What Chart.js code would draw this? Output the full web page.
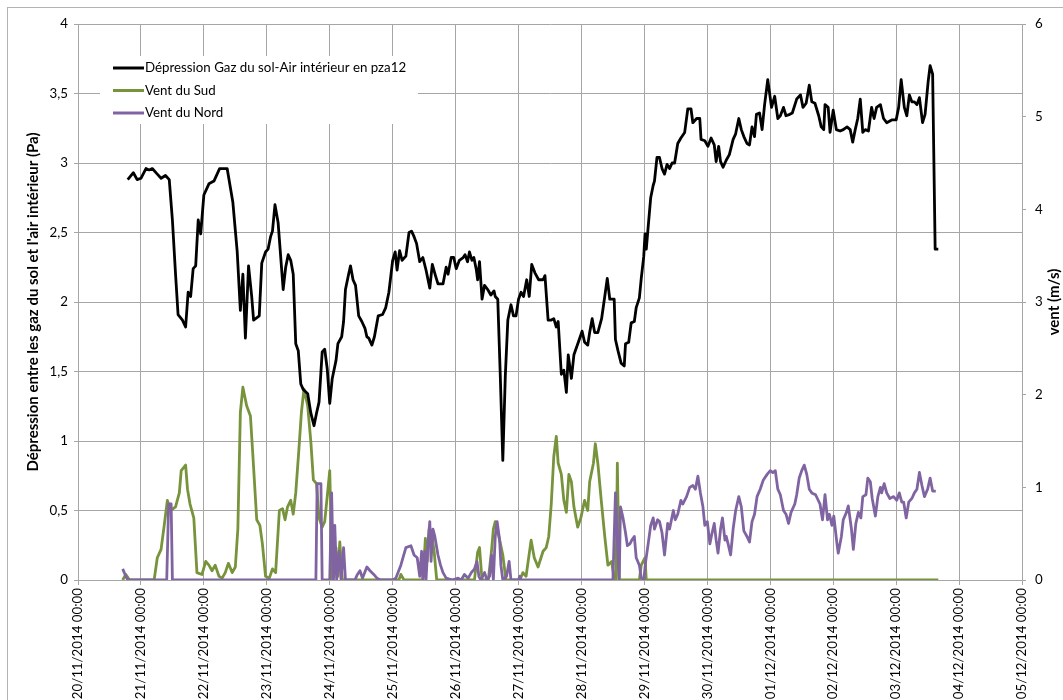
<!DOCTYPE html>
<html lang="fr">
<head>
<meta charset="utf-8">
<title>Dépression gaz du sol / vent</title>
<script src="https://cdn.jsdelivr.net/npm/chart.js@4.4.1/dist/chart.umd.min.js"></script>
<style>
  html, body { margin: 0; padding: 0; background: #fff; }
  #wrap { width: 1063px; height: 700px; }
</style>
</head>
<body>
<div id="wrap"><canvas id="ventChart" width="1063" height="700"></canvas></div>
<script>
// x = jours depuis le 20/11/2014 00:00
const dateLabels = ['20/11/2014 00:00', '21/11/2014 00:00', '22/11/2014 00:00', '23/11/2014 00:00',
  '24/11/2014 00:00', '25/11/2014 00:00', '26/11/2014 00:00', '27/11/2014 00:00', '28/11/2014 00:00',
  '29/11/2014 00:00', '30/11/2014 00:00', '01/12/2014 00:00', '02/12/2014 00:00', '03/12/2014 00:00',
  '04/12/2014 00:00', '05/12/2014 00:00'];

const depressionDays = [0.79,0.88,0.94,1.00,1.08,1.13,1.18,1.26,1.32,1.39,1.45,1.50,1.55,1.59,1.66,1.71,1.75,1.79,1.83,1.87,1.91,1.95,
  2.00,2.08,2.16,2.25,2.37,2.46,2.53,2.58,2.62,2.66,2.71,2.76,2.79,2.88,2.92,2.98,3.02,3.06,3.09,3.13,3.18,3.22,3.26,3.30,3.34,3.38,
  3.42,3.46,3.50,3.54,3.58,3.65,3.70,3.75,3.79,3.83,3.88,3.92,3.96,4.00,4.04,4.10,4.13,4.19,4.22,4.25,4.30,4.33,4.37,4.41,4.46,4.51,
  4.56,4.59,4.62,4.67,4.71,4.77,4.84,4.89,4.94,5.00,5.04,5.07,5.11,5.15,5.21,5.26,5.30,5.34,5.38,5.43,5.48,5.53,5.59,5.63,5.68,5.72,
  5.80,5.85,5.88,5.93,5.97,6.01,6.06,6.12,6.15,6.19,6.22,6.26,6.29,6.33,6.35,6.38,6.42,6.46,6.51,6.56,6.61,6.63,6.67,6.71,6.75,6.79,
  6.83,6.88,6.92,6.96,7.00,7.04,7.08,7.13,7.17,7.21,7.26,7.32,7.39,7.42,7.47,7.52,7.56,7.60,7.63,7.68,7.72,7.76,7.79,7.84,7.88,7.95,
  8.01,8.05,8.10,8.13,8.17,8.21,8.26,8.32,8.37,8.41,8.45,8.49,8.52,8.54,8.58,8.63,8.68,8.70,8.75,8.79,8.84,8.87,8.92,8.95,8.99,9.01,
  9.03,9.06,9.10,9.14,9.16,9.20,9.24,9.28,9.32,9.36,9.40,9.44,9.48,9.53,9.58,9.64,9.69,9.74,9.77,9.83,9.88,9.90,9.96,10.01,10.06,10.11,
  10.14,10.18,10.21,10.25,10.30,10.35,10.41,10.45,10.50,10.54,10.58,10.63,10.67,10.71,10.75,10.78,10.83,10.87,10.91,10.96,11.02,11.07,
  11.12,11.16,11.21,11.25,11.31,11.35,11.42,11.48,11.52,11.57,11.62,11.66,11.71,11.77,11.81,11.85,11.87,11.92,11.95,12.00,12.05,12.11,
  12.16,12.22,12.27,12.31,12.35,12.39,12.43,12.47,12.51,12.56,12.61,12.65,12.69,12.75,12.80,12.85,12.93,13.00,13.04,13.08,13.13,13.17,
  13.21,13.25,13.29,13.33,13.37,13.42,13.46,13.51,13.54,13.58,13.62,13.67];
const depressionPa = [2.88,2.93,2.88,2.89,2.96,2.95,2.96,2.92,2.89,2.91,2.88,2.59,2.20,1.91,1.87,1.82,2.07,2.04,2.24,2.26,2.59,2.49,
  2.77,2.85,2.87,2.96,2.96,2.72,2.36,1.94,2.20,1.74,2.26,2.04,1.87,1.90,2.28,2.36,2.38,2.47,2.51,2.70,2.57,2.33,2.09,2.25,2.34,2.30,
  2.20,1.70,1.65,1.41,1.37,1.34,1.20,1.11,1.20,1.28,1.64,1.66,1.52,1.27,1.45,1.58,1.70,1.75,1.86,2.09,2.20,2.26,2.16,2.12,1.90,1.86,
  1.81,1.75,1.74,1.69,1.75,1.90,1.91,1.96,2.07,2.30,2.36,2.23,2.37,2.30,2.33,2.50,2.51,2.47,2.42,2.29,2.32,2.23,2.10,2.27,2.19,2.13,
  2.13,2.25,2.20,2.32,2.32,2.24,2.30,2.32,2.34,2.29,2.36,2.30,2.32,2.23,2.16,2.29,2.02,2.12,2.09,2.05,2.08,2.04,2.02,1.47,0.86,1.47,
  1.87,1.98,1.90,1.90,2.02,2.07,2.04,2.16,2.04,2.27,2.21,2.16,2.16,2.19,1.87,1.87,1.88,1.82,1.86,1.48,1.51,1.35,1.62,1.45,1.62,1.71,
  1.79,1.71,1.69,1.78,1.88,1.78,1.78,1.88,2.04,2.17,2.02,2.02,2.02,1.73,1.65,1.56,1.54,1.70,1.71,1.85,1.86,1.96,2.03,2.17,2.33,2.49,
  2.38,2.54,2.75,2.84,2.87,3.04,3.04,2.96,2.92,2.99,2.96,3.00,3.00,3.14,3.18,3.22,3.39,3.39,3.29,3.32,3.32,3.17,3.16,3.12,3.18,3.13,
  3.01,3.12,3.01,2.97,3.02,3.06,3.17,3.21,3.32,3.24,3.19,3.14,3.13,3.26,3.19,3.35,3.36,3.24,3.42,3.60,3.40,3.48,
  3.32,3.34,3.40,3.34,3.35,3.36,3.46,3.49,3.40,3.43,3.56,3.44,3.43,3.34,3.26,3.24,3.42,3.40,3.22,3.38,3.24,3.23,
  3.24,3.26,3.24,3.15,3.24,3.32,3.46,3.22,3.24,3.23,3.40,3.32,3.40,3.42,3.32,3.29,3.31,3.31,3.40,3.60,3.40,3.34,
  3.49,3.44,3.44,3.42,3.47,3.29,3.35,3.59,3.70,3.64,2.38,2.38];

const sudDays = [0.71,0.76,0.82,1.21,1.26,1.32,1.37,1.42,1.47,1.55,1.61,1.64,1.71,1.74,1.78,1.84,1.89,1.97,2.03,2.08,2.13,2.18,2.24,
  2.29,2.34,2.39,2.45,2.50,2.54,2.58,2.62,2.68,2.74,2.78,2.84,2.89,2.93,2.98,3.04,3.09,3.14,3.20,3.25,3.29,3.33,3.38,3.42,3.46,3.51,
  3.55,3.59,3.65,3.70,3.74,3.79,3.83,3.88,3.92,3.96,4.00,4.04,4.10,4.13,4.16,4.20,5.10,5.13,5.18,5.48,5.52,5.55,5.58,5.62,5.66,5.70,
  6.30,6.35,6.38,6.42,6.52,6.57,6.60,6.63,6.70,6.75,6.80,7.02,7.07,7.12,7.20,7.25,7.31,7.39,7.44,7.48,7.52,7.56,7.60,7.63,7.68,7.72,
  7.76,7.80,7.84,7.88,7.94,7.99,8.05,8.10,8.13,8.19,8.22,8.26,8.32,8.37,8.42,8.48,8.52,8.55,8.57,8.60,8.92,8.95,9.01,9.03,13.67];
const sudMs = [0,0.06,0,0,0.24,0.33,0.59,0.86,0.75,0.79,0.94,1.18,1.24,0.98,0.82,0.67,0.08,0.06,0.20,0.16,0.10,0.16,0.04,
  0.02,0.08,0.18,0.08,0.14,0.55,1.81,2.08,1.88,1.77,1.33,0.65,0.59,0.39,0.04,0.02,0.12,0.08,0.75,0.77,0.65,0.79,0.86,0.71,0.94,1.41,
  1.81,2.06,1.88,1.49,1.08,1.04,0.67,0.57,0.63,0.90,1.18,0,0.35,0.04,0.41,0,0,0.06,0,0,0.45,0.20,0.55,0.50,0.30,0,
  0,0.30,0.35,0,0,0.31,0.55,0.63,0.43,0.27,0,0,0.08,0.04,0.43,0.24,0.14,0.31,0.35,0.47,0.82,1.33,1.55,1.26,1.14,0.86,
  0.73,1.14,1.06,0.79,0.57,0.67,0.86,0.75,1.06,1.26,1.47,1.26,0.82,0.47,0.16,0.20,0,0,1.26,0,0,0.16,0.24,0,0];

const nordDays = [0.71,0.76,0.79,1.41,1.44,1.48,1.50,3.78,3.80,3.86,3.88,4.00,4.03,4.06,4.08,4.11,4.15,4.18,4.22,4.25,4.40,4.44,4.48,
  4.52,4.59,4.64,4.70,4.75,4.81,5.00,5.05,5.13,5.21,5.29,5.34,5.39,5.43,5.46,5.48,5.51,5.53,5.56,5.59,5.61,5.64,5.67,5.72,5.76,5.80,
  5.85,5.95,6.04,6.09,6.14,6.20,6.25,6.30,6.34,6.37,6.40,6.46,6.50,6.54,6.57,6.60,6.63,6.66,6.70,6.72,6.75,6.81,6.85,6.88,7.00,7.02,
  7.04,8.50,8.54,8.57,8.60,8.62,8.66,8.70,8.73,8.77,8.80,8.84,8.87,8.92,8.95,8.99,9.02,9.06,9.10,9.14,9.16,9.21,9.24,9.28,9.32,9.37,
  9.40,9.46,9.49,9.53,9.58,9.61,9.67,9.72,9.77,9.81,9.85,9.89,9.93,9.96,10.00,10.04,10.07,10.11,10.14,10.17,10.21,10.24,10.28,10.30,
  10.33,10.37,10.41,10.45,10.50,10.54,10.58,10.63,10.67,10.71,10.75,10.79,10.84,10.89,10.95,11.00,11.04,11.08,11.12,11.16,11.21,11.25,
  11.29,11.33,11.39,11.42,11.46,11.50,11.54,11.58,11.62,11.66,11.72,11.79,11.83,11.87,11.91,11.94,11.98,12.01,12.06,12.08,12.13,12.16,
  12.21,12.24,12.29,12.32,12.36,12.40,12.44,12.47,12.52,12.55,12.59,12.62,12.67,12.71,12.75,12.77,12.81,12.85,12.90,12.96,13.01,13.05,
  13.09,13.12,13.16,13.20,13.25,13.29,13.33,13.37,13.41,13.45,13.50,13.54,13.58,13.63];
const nordMs = [0.12,0.04,0,0,0.82,0.82,0,0,1.04,1.04,0,0,0.94,0,0.59,0,0.31,0,0.35,0,0,0.06,0.10,
  0.02,0.14,0.10,0.06,0.02,0,0,0.02,0.16,0.35,0.37,0.27,0.24,0.04,0.31,0,0.31,0,0.39,0.63,0.20,0.55,0.47,0.27,0.16,0.08,
  0.02,0,0.02,0,0.06,0.02,0.08,0.12,0.20,0.04,0,0.08,0,0.04,0.27,0,0.47,0.63,0.43,0.16,0,0.04,0.20,0,0,0.04,
  0,0,0.94,0.43,0,0.79,0.67,0.51,0.37,0.39,0.43,0.47,0.24,0.16,0.02,0,0.20,0.39,0.59,0.67,0.55,0.65,0.63,0.51,0.27,0.61,
  0.55,0.75,0.65,0.71,0.86,0.82,0.90,1.00,1.02,0.98,1.12,0.94,0.79,0.59,0.63,0.39,0.49,0.61,0.43,0.29,0.55,0.67,0.43,0.47,
  0.39,0.27,0.55,0.75,0.90,0.79,0.53,0.47,0.41,0.63,0.71,0.90,0.98,1.08,1.14,1.18,1.16,1.18,0.98,0.92,0.75,0.71,
  0.61,0.73,0.82,0.92,1.10,1.18,1.24,1.14,0.98,0.94,0.92,0.82,0.65,0.92,0.65,0.71,0.59,0.69,0.39,0.29,0.47,0.65,
  0.73,0.80,0.55,0.33,0.61,0.73,0.67,0.90,0.92,1.10,1.06,0.88,0.69,0.90,1.00,0.94,1.04,0.94,0.88,0.90,0.86,0.94,
  0.84,0.84,0.67,0.84,0.88,0.94,0.98,1.16,1.02,0.90,0.98,1.10,0.96,0.96];

function toPoints(days, vals) {
  return days.map((d, i) => ({ x: d, y: vals[i] }));
}

const gridGrey = '#a6a6a6';
const labelFont = { family: 'Lato', size: 13.3 };

// cadre gris de la zone de graphique + fond blanc
const chartFrame = {
  id: 'chartFrame',
  beforeDraw(chart) {
    const c = chart.ctx;
    c.save();
    c.fillStyle = '#fff';
    c.fillRect(0, 0, chart.width, chart.height);
    c.strokeStyle = '#b3b3b3';
    c.lineWidth = 1;
    c.strokeRect(7.5, 7.5, chart.width + 20, chart.height + 20);
    c.restore();
  }
};

// légende dans la zone de tracé + titre de l'axe de droite
const insideLegend = {
  id: 'insideLegend',
  afterDraw(chart) {
    const c = chart.ctx;
    c.save();
    c.fillStyle = '#fff';
    c.fillRect(100, 56, 318, 68);
    c.font = '13.3px Lato';
    c.textBaseline = 'middle';
    chart.data.datasets.forEach((ds, i) => {
      const y = 68 + i * 22.5;
      c.strokeStyle = ds.borderColor;
      c.lineWidth = 3;
      c.beginPath();
      c.moveTo(113, y);
      c.lineTo(144, y);
      c.stroke();
      c.fillStyle = '#000';
      c.fillText(ds.label, 145, y);
    });
    c.translate(1054, (chart.chartArea.top + chart.chartArea.bottom) / 2);
    c.rotate(-Math.PI / 2);
    c.font = 'bold 15px Lato';
    c.textAlign = 'center';
    c.fillText('vent (m/s)', 0, 0);
    c.restore();
  }
};

new Chart(document.getElementById('ventChart').getContext('2d'), {
  type: 'line',
  data: {
    datasets: [
      {
        label: 'Dépression Gaz du sol-Air intérieur en pza12',
        data: toPoints(depressionDays, depressionPa),
        borderColor: '#000000',
        borderWidth: 2.8,
        yAxisID: 'y',
        order: 0
      },
      {
        label: 'Vent du Sud',
        data: toPoints(sudDays, sudMs),
        borderColor: '#77933c',
        borderWidth: 2.8,
        yAxisID: 'y1',
        order: 2
      },
      {
        label: 'Vent du Nord',
        data: toPoints(nordDays, nordMs),
        borderColor: '#8064a2',
        borderWidth: 2.8,
        yAxisID: 'y1',
        order: 1
      }
    ]
  },
  options: {
    responsive: false,
    animation: false,
    devicePixelRatio: 1,
    layout: { padding: { top: 24, left: 0, right: 0, bottom: 0 } },
    elements: { point: { radius: 0 }, line: { tension: 0, borderJoinStyle: 'round' } },
    plugins: { legend: { display: false }, tooltip: { enabled: false } },
    scales: {
      x: {
        type: 'linear',
        min: 0,
        max: 15,
        afterFit(scale) { scale.height = 120; },
        afterBuildTicks(scale) { scale.ticks = dateLabels.map((_, i) => ({ value: i })); },
        grid: { color: gridGrey, tickLength: 5 },
        border: { color: gridGrey },
        ticks: {
          autoSkip: false,
          minRotation: 90,
          maxRotation: 90,
          padding: 3,
          color: '#000',
          font: labelFont,
          callback: v => dateLabels[v]
        }
      },
      y: {
        position: 'left',
        min: 0,
        max: 4,
        afterFit(scale) { scale.width = 78; },
        grid: { color: gridGrey, tickLength: 4 },
        border: { color: gridGrey },
        ticks: {
          stepSize: 0.5,
          padding: 6,
          color: '#000',
          font: labelFont,
          callback: v => String(v).replace('.', ',')
        },
        title: {
          display: true,
          text: "Dépression entre les gaz du sol et l'air intérieur (Pa)",
          color: '#000',
          font: { family: 'Lato', size: 15, weight: 'bold' },
          padding: { top: 24, bottom: 0 }
        }
      },
      y1: {
        position: 'right',
        min: 0,
        max: 6,
        afterFit(scale) { scale.width = 41; },
        grid: { drawOnChartArea: false, color: gridGrey, tickLength: 4 },
        border: { color: gridGrey },
        ticks: {
          stepSize: 1,
          padding: 9,
          color: '#000',
          font: labelFont
        }
      }
    }
  },
  plugins: [chartFrame, insideLegend]
});
</script>
</body>
</html>
